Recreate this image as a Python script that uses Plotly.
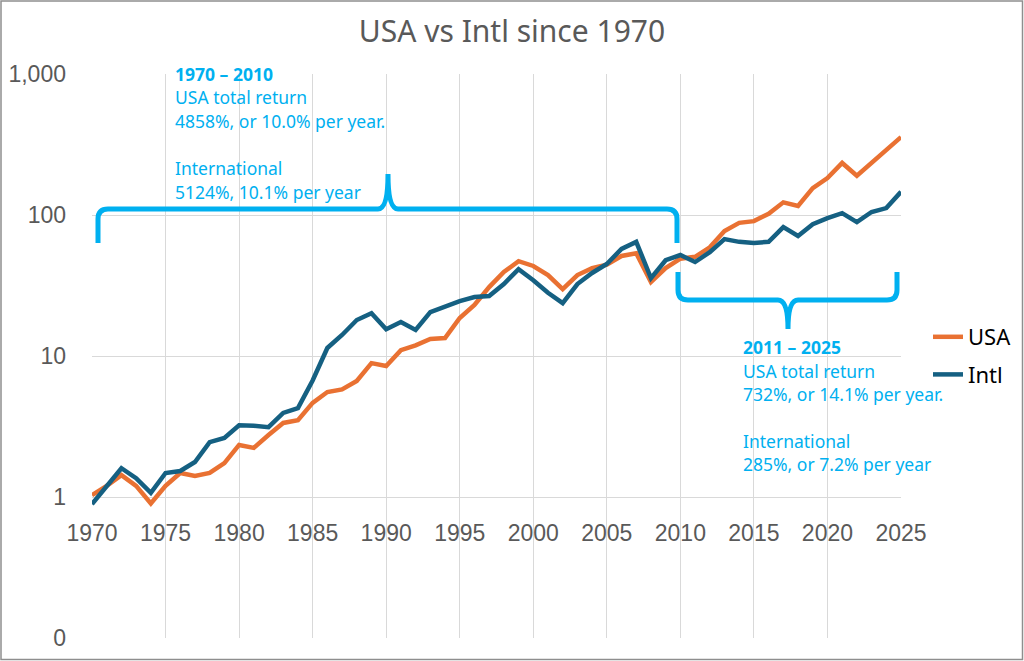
import plotly.graph_objects as go

# growth of $1
YEARS = list(range(1970, 2026))
USA = [1.03, 1.2, 1.43, 1.2, 0.9, 1.2, 1.48, 1.41, 1.48, 1.74,
       2.34, 2.23, 2.75, 3.35, 3.5, 4.65, 5.55, 5.8, 6.65, 8.9,
       8.5, 11.0, 11.9, 13.2, 13.4, 18.6, 23.0, 30.8, 39.4, 47.0,
       43.5, 37.5, 29.8, 37.5, 42.0, 44.4, 51.2, 53.6, 33.5, 42.0,
       49.0, 50.5, 59.0, 77.0, 88.0, 90.5, 102.0, 123.0, 116.0, 155.0,
       183.0, 234.0, 190.0, 234.0, 293.0, 357.0]
INTL = [0.89, 1.18, 1.6, 1.36, 1.07, 1.48, 1.53, 1.77, 2.45, 2.62,
        3.23, 3.2, 3.13, 3.95, 4.27, 6.7, 11.4, 14.1, 18.0, 20.1,
        15.5, 17.4, 15.3, 20.5, 22.4, 24.5, 26.2, 26.6, 32.4, 41.3,
        34.5, 28.1, 23.7, 32.4, 38.8, 44.9, 57.5, 64.5, 35.7, 47.8,
        52.0, 46.4, 54.5, 67.5, 64.5, 63.4, 64.5, 82.0, 71.0, 86.0,
        95.0, 103.0, 89.0, 105.0, 112.0, 146.0]

X_TICKS = list(range(1970, 2026, 5))
Y_TICK_VALS = [0.1, 1, 10, 100, 1000]
Y_TICK_TEXT = ["0", "1", "10", "100", "1,000"]

NOTE_1 = ["<b>1970 – 2010</b>", "USA total return", "4858%, or 10.0% per year.",
          "", "International", "5124%, 10.1% per year"]
NOTE_2 = ["<b>2011 – 2025</b>", "USA total return", "732%, or 14.1% per year.",
          "", "International", "285%, or 7.2% per year"]

W, H = 1024, 661
L, R, T, B = 92, 123, 74, 23
BLUE_TXT = "#00B0F0"
GREY = "#595959"
GRID = "#D9D9D9"


def px_x(px):
    return (px - L) / (W - L - R)


def px_y(py):
    return (H - B - py) / (H - T - B)


def brace(x0, x1, xm, y_end, y_bar, y_tip, r=10):
    # curly bracket, pixel coords -> paper coords
    s = 1 if y_end > y_bar else -1
    pts = [
        ("M", [(x0, y_end)]),
        ("L", [(x0, y_bar + s * r)]),
        ("Q", [(x0, y_bar), (x0 + r, y_bar)]),
        ("L", [(xm - r, y_bar)]),
        ("Q", [(xm, y_bar), (xm, y_tip)]),
        ("Q", [(xm, y_bar), (xm + r, y_bar)]),
        ("L", [(x1 - r, y_bar)]),
        ("Q", [(x1, y_bar), (x1, y_bar + s * r)]),
        ("L", [(x1, y_end)]),
    ]
    out = []
    for cmd, xy in pts:
        out.append(cmd + " " + " ".join(f"{px_x(a):.5f},{px_y(b):.5f}" for a, b in xy))
    return " ".join(out)


fig = go.Figure()
fig.add_trace(go.Scatter(x=YEARS, y=USA, name="USA", mode="lines", legendgroup="a",
                         line=dict(color="#E97132", width=4.5)))
# Intl sits on the overlay x axis that carries the year labels at y = 1
fig.add_trace(go.Scatter(x=YEARS, y=INTL, name="Intl", mode="lines", legendgroup="b",
                         xaxis="x2", line=dict(color="#156082", width=4.5)))

shapes = [
    dict(type="path", xref="paper", yref="paper",
         path=brace(98, 677, 388, 243, 209, 174),
         line=dict(color=BLUE_TXT, width=5)),
    dict(type="path", xref="paper", yref="paper",
         path=brace(678, 897, 788, 272, 300, 329),
         line=dict(color=BLUE_TXT, width=5)),
    dict(type="rect", xref="paper", yref="paper",
         x0=px_x(1), x1=px_x(1022.5), y0=px_y(659.5), y1=px_y(1),
         line=dict(color="#8E8E8E", width=1.5)),
]

annotations = []
for lines, (lx, ly) in [(NOTE_1, (173, 74)), (NOTE_2, (741, 347))]:
    for i, txt in enumerate(lines):
        if not txt:
            continue
        annotations.append(dict(
            text=txt, xref="paper", yref="paper", x=px_x(lx), y=px_y(ly + i * 23.5),
            xanchor="left", yanchor="middle", showarrow=False,
            font=dict(family="Noto Sans", size=17.5, color=BLUE_TXT)))

fig.update_layout(
    width=W, height=H,
    margin=dict(l=L, r=R, t=T, b=B, autoexpand=False),
    paper_bgcolor="white", plot_bgcolor="white",
    title=dict(text="USA vs Intl since 1970", x=0.5, xref="container",
               y=1 - 31 / H, yanchor="middle",
               font=dict(family="Noto Sans", size=30, color=GREY)),
    legend=dict(x=px_x(928), y=px_y(356), xanchor="left", yanchor="middle",
                font=dict(family="Noto Sans", size=22, color="black"),
                traceorder="grouped", tracegroupgap=6, itemwidth=30,
                bgcolor="rgba(0,0,0,0)"),
    shapes=shapes,
    annotations=annotations,
    showlegend=True,
    xaxis=dict(range=[1970, 2025], tickvals=X_TICKS, showgrid=True,
               gridcolor=GRID, gridwidth=1, zeroline=False, showline=False,
               showticklabels=False),
    xaxis2=dict(range=[1970, 2025], matches="x", overlaying="x", tickvals=X_TICKS,
                showgrid=False, zeroline=False, showline=False,
                anchor="free", position=0.25, ticklabelstandoff=20,
                tickfont=dict(family="Liberation Sans", size=23, color=GREY)),
    yaxis=dict(type="log", range=[-1, 3], tickvals=Y_TICK_VALS, ticktext=Y_TICK_TEXT,
               showgrid=True, gridcolor=GRID, gridwidth=1, zeroline=False,
               showline=False, ticklabelstandoff=25,
               tickfont=dict(family="Liberation Sans", size=23, color=GREY)),
)

fig.write_html(
    "out.html",
    config={"displayModeBar": False},
    post_script=("document.body.style.margin='0px';"
                 "document.body.style.overflow='hidden';"
                 "document.documentElement.style.overflow='hidden';"),
)
